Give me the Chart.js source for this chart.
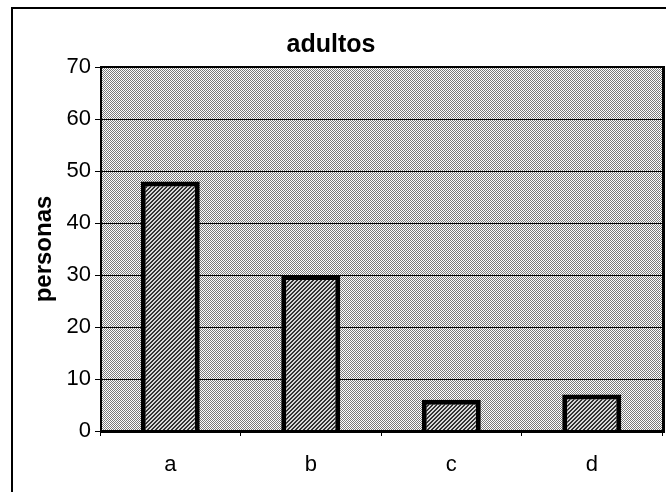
<!DOCTYPE html>
<html>
<head>
<meta charset="utf-8">
<script src="https://cdn.jsdelivr.net/npm/chart.js@4"></script>
<style>
  html, body { margin: 0; padding: 0; background: #fff; }
  #wrap { width: 666px; height: 492px; }
</style>
</head>
<body>
<div id="wrap"><canvas id="barGraph" width="666" height="492"></canvas></div>
<script>
// Data
var categories = ['a', 'b', 'c', 'd'];
var personas = [48, 30, 6, 7];
var yTicks = [0, 10, 20, 30, 40, 50, 60, 70];
var chartTitle = 'adultos';
var yTitle = 'personas';

// Small pixel patterns like the old spreadsheet fills
function makePattern(size, dark, light, isDark) {
    var c = document.createElement('canvas');
    c.width = size; c.height = size;
    var g = c.getContext('2d');
    g.fillStyle = light;
    g.fillRect(0, 0, size, size);
    g.fillStyle = dark;
    for (var y = 0; y < size; y++) {
        for (var x = 0; x < size; x++) {
            if (isDark(x, y)) g.fillRect(x, y, 1, 1);
        }
    }
    return g.createPattern(c, 'repeat');
}

var canvas = document.getElementById('barGraph');
var dotFill = makePattern(2, '#7a7a7a', '#ffffff', function (x, y) { return (x + y) % 2 === 0; });
var hatchFill = makePattern(4, '#333333', '#d8d8d8', function (x, y) { return (x + y) % 4 < 2; });

// Background, outer frame and plot area border
var plotFrame = {
    id: 'plotFrame',
    beforeDraw: function (chart) {
        var ctx = chart.ctx, a = chart.chartArea;
        ctx.save();
        ctx.fillStyle = '#fff';
        ctx.fillRect(0, 0, chart.width, chart.height);
        ctx.fillStyle = dotFill;
        ctx.fillRect(a.left, a.top, a.right - a.left, a.bottom - a.top);
        ctx.strokeStyle = '#000';
        ctx.lineWidth = 2;
        ctx.beginPath();
        ctx.moveTo(12, 492);
        ctx.lineTo(12, 8);
        ctx.lineTo(666, 8);
        ctx.stroke();
        ctx.restore();
    },
    afterDraw: function (chart) {
        var ctx = chart.ctx, a = chart.chartArea;
        ctx.save();
        ctx.strokeStyle = '#000';
        ctx.lineWidth = 2;
        ctx.beginPath();
        ctx.moveTo(a.left, a.top);
        ctx.lineTo(a.right, a.top);
        ctx.moveTo(a.left + 1, a.top);
        ctx.lineTo(a.left + 1, a.bottom);
        ctx.stroke();
        ctx.lineWidth = 3;
        ctx.beginPath();
        ctx.moveTo(a.left, a.bottom + 0.5);
        ctx.lineTo(a.right + 3, a.bottom + 0.5);
        ctx.moveTo(a.right + 1.5, a.top - 1);
        ctx.lineTo(a.right + 1.5, a.bottom + 2);
        ctx.stroke();
        ctx.restore();
    }
};

var barGraph = new Chart(canvas, {
    type: 'bar',
    data: {
        labels: categories,
        datasets: [{
            label: yTitle,
            data: personas,
            backgroundColor: hatchFill,
            borderColor: '#000',
            borderWidth: 5,
            barPercentage: 0.42,
            categoryPercentage: 1
        }]
    },
    options: {
        responsive: false,
        maintainAspectRatio: false,
        animation: false,
        layout: {
            padding: { left: 0, right: 4, top: 0, bottom: 0 }
        },
        scales: {
            x: {
                offset: true,
                afterFit: function (scale) { scale.height = 61; },
                grid: {
                    offset: true,
                    drawOnChartArea: false,
                    color: '#000',
                    tickLength: 5
                },
                border: { display: false },
                ticks: {
                    color: '#000',
                    padding: 16,
                    font: { family: 'Liberation Sans, Arial, sans-serif', size: 22 }
                }
            },
            y: {
                min: 0,
                max: 70,
                afterFit: function (scale) { scale.width = 100; },
                afterBuildTicks: function (scale) {
                    scale.ticks = yTicks.map(function (v) { return { value: v }; });
                },
                grid: {
                    color: '#000',
                    lineWidth: 1,
                    tickLength: 5
                },
                border: { display: false },
                ticks: {
                    color: '#000',
                    padding: 4,
                    font: { family: 'Liberation Sans, Arial, sans-serif', size: 22 }
                },
                title: {
                    display: true,
                    text: yTitle,
                    color: '#000',
                    padding: { top: 30, bottom: 0 },
                    font: { family: 'Liberation Sans, Arial, sans-serif', size: 24, weight: 'bold' }
                }
            }
        },
        plugins: {
            legend: { display: false },
            tooltip: { enabled: false },
            title: {
                display: true,
                text: chartTitle,
                color: '#000',
                padding: { top: 30, bottom: 7 },
                font: { family: 'Liberation Sans, Arial, sans-serif', size: 25, weight: 'bold' }
            }
        }
    },
    plugins: [plotFrame]
});
</script>
</body>
</html>
